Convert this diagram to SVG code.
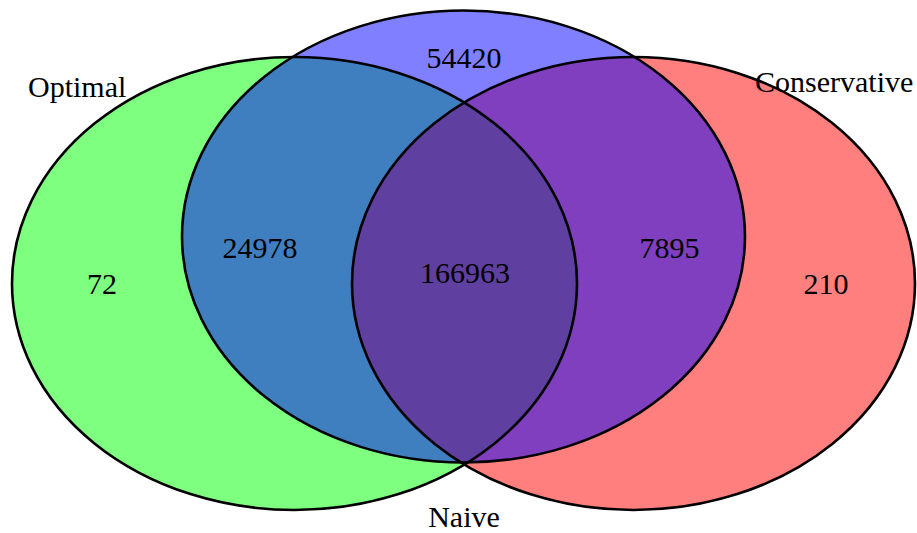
<svg xmlns="http://www.w3.org/2000/svg" width="917" height="533" viewBox="0 0 917 533">
<style>
.fill{fill-opacity:0.5;stroke:none}
.edge{fill:none;stroke:#000;stroke-width:2.6}
text{font-family:"Liberation Serif","Times New Roman","DejaVu Serif",serif;font-size:30px;fill:#000;text-anchor:middle}
.lab{text-anchor:start}
</style>
<rect width="917" height="533" fill="#fff"/>
<g id="optimal">
<ellipse class="fill" cx="294.5" cy="283.5" rx="282.5" ry="226.5" fill="#00ff00"/>
</g>
<g id="conservative">
<ellipse class="fill" cx="633.5" cy="283.5" rx="281.5" ry="226.5" fill="#ff0000"/>
</g>
<g id="naive">
<ellipse class="fill" cx="463.5" cy="236.5" rx="281.5" ry="226" fill="#0000ff"/>
</g>
<g id="outlines">
<ellipse class="edge" cx="294.5" cy="283.5" rx="282.5" ry="226.5"/>
<ellipse class="edge" cx="633.5" cy="283.5" rx="281.5" ry="226.5"/>
<ellipse class="edge" cx="463.5" cy="236.5" rx="281.5" ry="226"/>
</g>
<g id="labels">
<text class="lab" x="28" y="97">Optimal</text>
<text class="lab" x="755" y="92">Conservative</text>
<text x="464" y="527">Naive</text>
</g>
<g id="counts">
<text x="464" y="68">54420</text>
<text x="260" y="258">24978</text>
<text x="669.5" y="258">7895</text>
<text x="465" y="283">166963</text>
<text x="102" y="294">72</text>
<text x="826" y="294">210</text>
</g>
</svg>
